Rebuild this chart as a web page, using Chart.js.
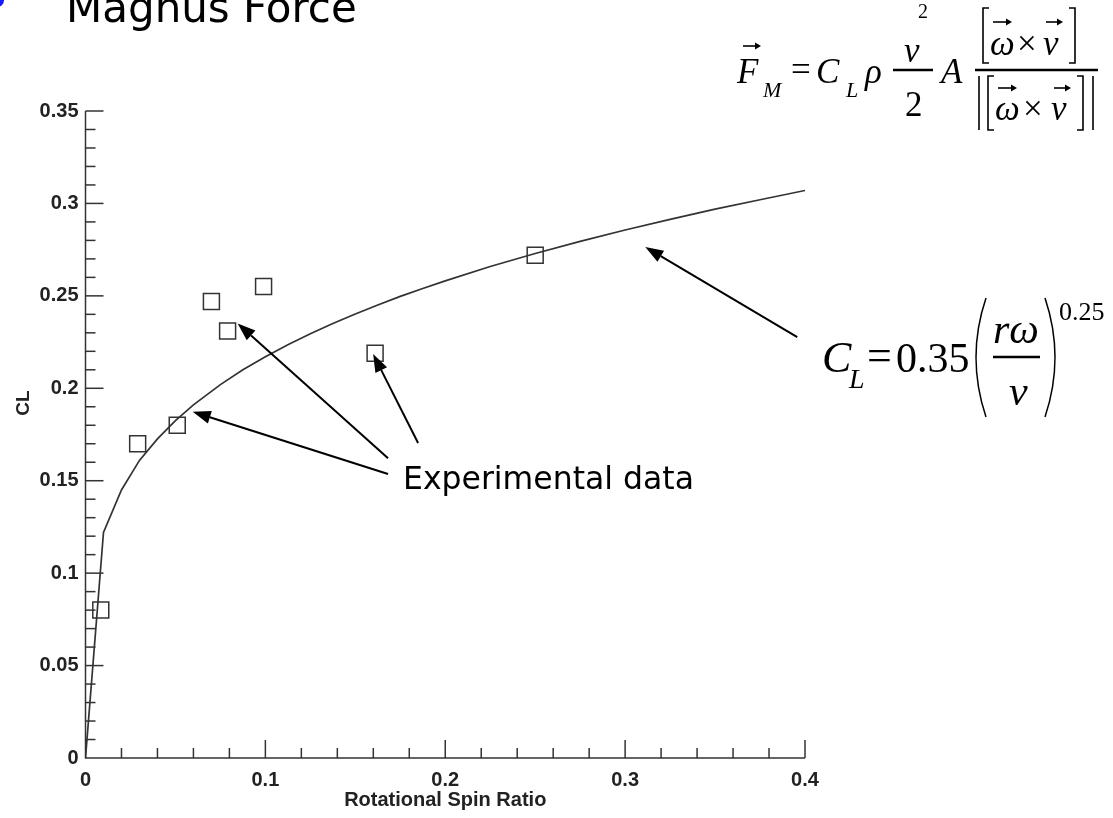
<!DOCTYPE html>
<html>
<head>
<meta charset="utf-8">
<title>Magnus Force</title>
<script src="https://cdn.jsdelivr.net/npm/chart.js@4.4.0/dist/chart.umd.min.js"></script>
<style>
  body { margin: 0; background: #fff; }
  #wrap { position: relative; width: 1113px; height: 818px; overflow: hidden; }
  #bullet { position: absolute; left: -9px; top: -6px; width: 13px; height: 13px; border-radius: 50%; background: #1a1aff; }
</style>
</head>
<body>
<div id="wrap">
  <canvas id="chart"></canvas>
  <div id="bullet"></div>
</div>
<script>
// fitted curve
const curveX = [0, 0.01, 0.02, 0.03, 0.04, 0.05, 0.06, 0.075, 0.0875, 0.1, 0.1125, 0.125, 0.1375, 0.15, 0.1625,
  0.175, 0.1875, 0.2, 0.225, 0.25, 0.275, 0.3, 0.325, 0.35, 0.375, 0.4];
const curveY = [0, 0.122, 0.145, 0.161, 0.1726, 0.1825, 0.191, 0.2020, 0.2100, 0.2171, 0.2236, 0.2295, 0.2350, 0.2402, 0.2451,
  0.2497, 0.2540, 0.2581, 0.2659, 0.2729, 0.2795, 0.2856, 0.2914, 0.2969, 0.3020, 0.3070];

// experimental points (squares)
const expX = [0.0085, 0.029, 0.051, 0.070, 0.079, 0.099, 0.161, 0.250];
const expY = [0.080, 0.170, 0.180, 0.247, 0.231, 0.255, 0.219, 0.272];

const xTickLabels = ['0', '0.1', '0.2', '0.3', '0.4'];
const yTickLabels = ['0', '0.05', '0.1', '0.15', '0.2', '0.25', '0.3', '0.35'];

// annotation arrows in data units: [fromX, fromY, toX, toY]
const arrows = [
  [0.1682, 0.1536, 0.0596, 0.1873],
  [0.1682, 0.1622, 0.0846, 0.2351],
  [0.1849, 0.1704, 0.1599, 0.2185],
  [0.3957, 0.2277, 0.3112, 0.2764]
];

const axisColor = '#333';
const tickFont = { family: 'Liberation Sans', size: 20, weight: 'bold' };

function drawArrow(ctx, x1, y1, x2, y2) {
  const ang = Math.atan2(y2 - y1, x2 - x1);
  const hl = 18, hw = 6.5;
  const bx = x2 - hl * Math.cos(ang), by = y2 - hl * Math.sin(ang);
  ctx.beginPath();
  ctx.moveTo(x1, y1);
  ctx.lineTo(bx, by);
  ctx.stroke();
  ctx.beginPath();
  ctx.moveTo(x2, y2);
  ctx.lineTo(bx + hw * Math.sin(ang), by - hw * Math.cos(ang));
  ctx.lineTo(bx - hw * Math.sin(ang), by + hw * Math.cos(ang));
  ctx.closePath();
  ctx.fill();
}

// little vector arrow above a letter
function vec(ctx, x1, x2, y) {
  ctx.save();
  ctx.lineWidth = 1.6;
  ctx.beginPath();
  ctx.moveTo(x1, y); ctx.lineTo(x2 - 2, y); ctx.stroke();
  ctx.beginPath();
  ctx.moveTo(x2 + 1, y); ctx.lineTo(x2 - 5, y - 3.5); ctx.lineTo(x2 - 5, y + 3.5); ctx.closePath(); ctx.fill();
  ctx.restore();
}

function txt(ctx, s, x, y, size, italic) {
  ctx.font = (italic ? 'italic ' : '') + size + 'px "Liberation Serif"';
  ctx.fillText(s, x, y);
}

function hline(ctx, x1, x2, y, w) {
  ctx.save();
  ctx.lineWidth = w || 2;
  ctx.beginPath(); ctx.moveTo(x1, y); ctx.lineTo(x2, y); ctx.stroke();
  ctx.restore();
}

function bracket(ctx, x, top, bottom, dir) {
  ctx.save();
  ctx.lineWidth = 1.6;
  ctx.beginPath();
  ctx.moveTo(x + 6 * dir, top); ctx.lineTo(x, top); ctx.lineTo(x, bottom); ctx.lineTo(x + 6 * dir, bottom);
  ctx.stroke();
  ctx.restore();
}

function vbar(ctx, x, top, bottom) {
  ctx.save();
  ctx.lineWidth = 1.6;
  ctx.beginPath(); ctx.moveTo(x, top); ctx.lineTo(x, bottom); ctx.stroke();
  ctx.restore();
}

function paren(ctx, x, top, bottom, dir) {
  ctx.save();
  ctx.lineWidth = 1.5;
  ctx.beginPath();
  ctx.moveTo(x, top);
  ctx.quadraticCurveTo(x - 20 * dir, (top + bottom) / 2, x, bottom);
  ctx.stroke();
  ctx.restore();
}

const decorations = {
  id: 'decorations',
  afterDraw(chart) {
    const { ctx, scales: { x, y } } = chart;
    const x0 = x.getPixelForValue(0), y0 = y.getPixelForValue(0);
    const xEnd = x.getPixelForValue(0.4), yEnd = y.getPixelForValue(0.35);
    ctx.save();
    ctx.strokeStyle = axisColor;
    ctx.lineWidth = 1.5;
    // axis lines
    ctx.beginPath();
    ctx.moveTo(x0, yEnd); ctx.lineTo(x0, y0); ctx.lineTo(xEnd, y0);
    ctx.stroke();
    // inward ticks
    for (let i = 1; i <= 35; i++) {
      const py = y.getPixelForValue(i / 100);
      const len = i % 5 === 0 ? 18 : 10;
      ctx.beginPath(); ctx.moveTo(x0, py); ctx.lineTo(x0 + len, py); ctx.stroke();
    }
    for (let i = 1; i <= 20; i++) {
      const px = x.getPixelForValue(i / 50);
      const len = i % 5 === 0 ? 18 : 10;
      ctx.beginPath(); ctx.moveTo(px, y0); ctx.lineTo(px, y0 - len); ctx.stroke();
    }

    // y title
    ctx.fillStyle = '#222';
    ctx.font = 'bold 19px "Liberation Sans"';
    ctx.save();
    ctx.translate(24, 403);
    ctx.rotate(-Math.PI / 2);
    ctx.textAlign = 'center';
    ctx.textBaseline = 'middle';
    ctx.fillText('CL', 0, 0);
    ctx.restore();

    // arrows
    ctx.strokeStyle = '#000';
    ctx.fillStyle = '#000';
    ctx.lineWidth = 2;
    arrows.forEach(a => {
      drawArrow(ctx, x.getPixelForValue(a[0]), y.getPixelForValue(a[1]),
        x.getPixelForValue(a[2]), y.getPixelForValue(a[3]));
    });

    // captions
    ctx.textAlign = 'left';
    ctx.textBaseline = 'alphabetic';
    ctx.font = '31.5px "DejaVu Sans"';
    ctx.fillText('Experimental data', 403, 489);
    ctx.font = '42px "DejaVu Sans"';
    ctx.fillText('Magnus Force', 66, 22);

    // F_M formula
    txt(ctx, 'F', 737, 83, 35, true);
    vec(ctx, 743, 760, 46);
    txt(ctx, 'M', 763, 97, 22, true);
    txt(ctx, '=', 791, 81, 35, false);
    txt(ctx, 'C', 816, 83, 35, true);
    txt(ctx, 'L', 846, 97, 22, true);
    txt(ctx, 'ρ', 865, 83, 35, true);
    hline(ctx, 893, 933, 70, 2.5);
    txt(ctx, 'v', 904, 62, 35, true);
    txt(ctx, '2', 918, 18, 20, false);
    txt(ctx, '2', 905, 116, 35, false);
    txt(ctx, 'A', 941, 83, 35, true);
    hline(ctx, 975, 1098, 70, 2.5);
    // numerator [w x v]
    bracket(ctx, 983, 8, 63, 1);
    txt(ctx, 'ω', 990, 55, 35, true);
    vec(ctx, 993, 1011, 22);
    txt(ctx, '×', 1017, 55, 35, false);
    txt(ctx, 'v', 1043, 55, 35, true);
    vec(ctx, 1046, 1062, 22);
    bracket(ctx, 1075, 8, 63, -1);
    // denominator |[w x v]|
    vbar(ctx, 979, 76, 130);
    bracket(ctx, 988, 76, 130, 1);
    txt(ctx, 'ω', 995, 120, 35, true);
    vec(ctx, 998, 1016, 88);
    txt(ctx, '×', 1023, 120, 35, false);
    txt(ctx, 'v', 1051, 120, 35, true);
    vec(ctx, 1054, 1070, 88);
    bracket(ctx, 1083, 76, 130, -1);
    vbar(ctx, 1093, 76, 130);

    // C_L formula
    txt(ctx, 'C', 822, 372, 44, true);
    txt(ctx, 'L', 849, 388, 28, true);
    txt(ctx, '=', 867, 370, 44, false);
    txt(ctx, '0.35', 896, 372, 42, false);
    paren(ctx, 986, 298, 417, 1);
    txt(ctx, 'rω', 993, 343, 42, true);
    hline(ctx, 993, 1040, 357, 2.5);
    txt(ctx, 'v', 1009, 405, 42, true);
    paren(ctx, 1045, 298, 417, -1);
    txt(ctx, '0.25', 1059, 320, 26, false);
    ctx.restore();
  }
};

const ctx = document.getElementById('chart').getContext('2d');
const chart = new Chart(ctx, {
  type: 'scatter',
  data: {
    datasets: [
      {
        label: 'CL fit',
        data: curveX.map((v, i) => ({ x: v, y: curveY[i] })),
        showLine: true,
        borderColor: axisColor,
        borderWidth: 1.7,
        pointRadius: 0,
        tension: 0
      },
      {
        label: 'Experimental data',
        data: expX.map((v, i) => ({ x: v, y: expY[i] })),
        showLine: false,
        pointStyle: 'rect',
        pointRadius: 11.3,
        borderWidth: 1.5,
        borderColor: axisColor,
        backgroundColor: 'rgba(0,0,0,0)'
      }
    ]
  },
  options: {
    animation: false,
    responsive: true,
    maintainAspectRatio: false,
    layout: { padding: { top: 111, right: 308, left: 0, bottom: 0 } },
    plugins: { legend: { display: false }, tooltip: { enabled: false } },
    scales: {
      x: {
        type: 'linear', min: 0, max: 0.4,
        afterFit: s => { s.height = 60; },
        grid: { display: false, drawTicks: false },
        border: { display: false },
        ticks: {
          stepSize: 0.1, padding: 10, color: '#222', font: tickFont,
          maxRotation: 0, autoSkip: false,
          callback: (v, i) => xTickLabels[i]
        },
        title: {
          display: true, text: 'Rotational Spin Ratio', color: '#222',
          font: tickFont, padding: { top: 0, bottom: 6 }
        }
      },
      y: {
        type: 'linear', min: 0, max: 0.35,
        afterFit: s => { s.width = 85.5; },
        grid: { display: false, drawTicks: false },
        border: { display: false },
        ticks: {
          stepSize: 0.05, padding: 7, color: '#222', font: tickFont,
          autoSkip: false,
          callback: (v, i) => yTickLabels[i]
        }
      }
    }
  },
  plugins: [decorations]
});
</script>
</body>
</html>
